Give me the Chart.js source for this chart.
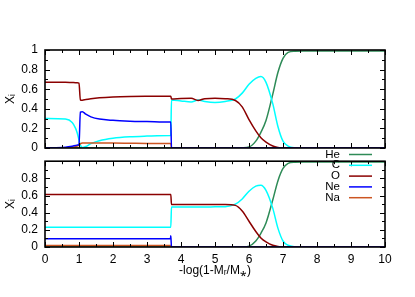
<!DOCTYPE html>
<html>
<head>
<meta charset="utf-8">
<script src="https://cdn.jsdelivr.net/npm/chart.js@4"></script>
<style>
  body { margin: 0; background: #fff; }
  #wrap { position: relative; width: 415px; height: 297px; }
  canvas { position: absolute; left: 0; }
</style>
</head>
<body>
<div id="wrap">
  <canvas id="bottomChart" width="415" height="150" style="top:147px"></canvas>
  <canvas id="topChart" width="415" height="165" style="top:0px"></canvas>
</div>
<script>
/* 数据：横坐标 -log(1-Mr/M*) */
var xs = [0, 0.6, 0.8, 0.9, 0.95, 1.0, 1.04, 1.1, 1.2, 1.35, 1.6, 2.0, 2.5, 3.0, 3.69, 3.7, 3.72, 4.0, 4.3, 4.5,
          4.7, 5.0, 5.3, 5.6, 5.8, 6.0, 6.2, 6.35, 6.5, 6.7, 6.85, 7.0, 7.15, 7.35, 7.6, 8.0, 9.0, 10];
var species = ['He', 'C', 'O', 'Ne', 'Na'];
var colors = ['#2e8b57', '#00ffff', '#8b0000', '#0000ff', '#cc5522'];

/* 两个面板共用的 He */
var he = [0, 0, 0, 0, 0, 0, 0, 0, 0, 0, 0, 0, 0, 0, 0, 0, 0, 0, 0, 0,
          0, 0, 0, 0, 0.002, 0.01, 0.07, 0.16, 0.28, 0.55, 0.77, 0.915, 0.975, 0.988, 0.99, 0.99, 0.99, 0.99];

/* 上面板 */
var topC  = [0.30, 0.295, 0.26, 0.20, 0.15, 0.08, 0.03, 0.005, 0.015, 0.045, 0.075, 0.10, 0.115, 0.122, 0.128, 0.128, 0.49, 0.48, 0.47, 0.49,
             0.475, 0.465, 0.475, 0.50, 0.56, 0.65, 0.71, 0.73, 0.67, 0.45, 0.22, 0.07, 0.02, 0.003, 0, 0, 0, 0];
var topO  = [0.67, 0.67, 0.668, 0.667, 0.665, 0.662, 0.49, 0.487, 0.495, 0.503, 0.512, 0.52, 0.525, 0.527, 0.528, 0.528, 0.50, 0.505, 0.507, 0.485,
             0.503, 0.507, 0.503, 0.485, 0.42, 0.29, 0.175, 0.105, 0.06, 0.02, 0.006, 0, 0, 0, 0, 0, 0, 0];
var topNe = [0, 0.008, 0.018, 0.025, 0.03, 0.035, 0.365, 0.37, 0.345, 0.318, 0.295, 0.282, 0.274, 0.27, 0.265, 0.265, 0, 0, 0, 0,
             0, 0, 0, 0, 0, 0, 0, 0, 0, 0, 0, 0, 0, 0, 0, 0, 0, 0];
var topNa = [0, 0.001, 0.005, 0.012, 0.02, 0.03, 0.042, 0.05, 0.052, 0.052, 0.051, 0.05, 0.048, 0.046, 0.045, 0.045, 0, 0, 0, 0,
             0, 0, 0, 0, 0, 0, 0, 0, 0, 0, 0, 0, 0, 0, 0, 0, 0, 0];

/* 下面板 */
var botC  = [0.23, 0.23, 0.23, 0.23, 0.23, 0.23, 0.23, 0.23, 0.23, 0.23, 0.23, 0.23, 0.23, 0.23, 0.23, 0.23, 0.465, 0.466, 0.466, 0.467,
             0.467, 0.468, 0.47, 0.50, 0.56, 0.65, 0.71, 0.72, 0.66, 0.45, 0.22, 0.07, 0.02, 0.003, 0, 0, 0, 0];
var botO  = [0.613, 0.613, 0.613, 0.613, 0.613, 0.613, 0.613, 0.613, 0.613, 0.613, 0.613, 0.613, 0.613, 0.613, 0.613, 0.613, 0.495, 0.495, 0.495, 0.495,
             0.495, 0.495, 0.495, 0.485, 0.42, 0.30, 0.18, 0.105, 0.06, 0.02, 0.006, 0, 0, 0, 0, 0, 0, 0];
var botNe = [0.095, 0.095, 0.095, 0.095, 0.095, 0.095, 0.095, 0.095, 0.095, 0.095, 0.095, 0.095, 0.095, 0.095, 0.095, 0.13, 0, 0, 0, 0,
             0, 0, 0, 0, 0, 0, 0, 0, 0, 0, 0, 0, 0, 0, 0, 0, 0, 0];
var botNa = [0.017, 0.017, 0.017, 0.017, 0.017, 0.017, 0.017, 0.017, 0.017, 0.017, 0.017, 0.017, 0.017, 0.017, 0.017, 0.017, 0, 0, 0, 0,
             0, 0, 0, 0, 0, 0, 0, 0, 0, 0, 0, 0, 0, 0, 0, 0, 0, 0];

var FONT = 'Liberation Sans, Arial, sans-serif';
Chart.defaults.font.family = FONT;
Chart.defaults.font.size = 12;
Chart.defaults.color = '#000';

function makeSets(list) {
    // 画的顺序：He 在最下，Ne 在最上
    var drawOrder = [4, 3, 2, 0, 1];
    return list.map(function(vals, k) {
        return {
            label: species[k],
            data: xs.map(function(x, i) { return {x: x, y: vals[i]}; }),
            borderColor: colors[k],
            borderWidth: 1.5,
            pointRadius: 0,
            fill: false,
            cubicInterpolationMode: 'monotone',
            order: drawOrder[k]
        };
    });
}

/* gnuplot 风格的边框和向内的刻度 */
var frameTicks = {
    id: 'frameTicks',
    afterDatasetsDraw: function(chart) {
        var ctx = chart.ctx, a = chart.chartArea;
        var sx = chart.scales.x, sy = chart.scales.y;
        ctx.save();
        ctx.strokeStyle = '#000';
        ctx.lineWidth = 1;
        ctx.beginPath();
        for (var i = 0; i <= 20; i++) {
            var v = i / 2, px = Math.round(sx.getPixelForValue(v)) + 0.5;
            var len = (i % 2 === 0) ? 5 : 3;
            ctx.moveTo(px, a.bottom); ctx.lineTo(px, a.bottom - len);
            ctx.moveTo(px, a.top); ctx.lineTo(px, a.top + len);
        }
        for (var j = 0; j <= 10; j++) {
            var py = Math.round(sy.getPixelForValue(j / 10)) + 0.5;
            var l2 = (j % 2 === 0) ? 5 : 3;
            ctx.moveTo(a.left, py); ctx.lineTo(a.left + l2, py);
            ctx.moveTo(a.right, py); ctx.lineTo(a.right - l2, py);
        }
        ctx.stroke();
        ctx.lineWidth = 1.6;
        ctx.strokeRect(a.left, a.top, a.right - a.left, a.bottom - a.top);
        ctx.restore();
    }
};

/* 下面板里的图例 */
var insideLegend = {
    id: 'insideLegend',
    afterDraw: function(chart) {
        var ctx = chart.ctx;
        ctx.save();
        ctx.font = '11.5px ' + FONT;
        ctx.textAlign = 'right';
        ctx.textBaseline = 'middle';
        chart.data.datasets.forEach(function(ds, i) {
            var y = 7.5 + i * 10.8;
            ctx.fillStyle = '#000';
            ctx.fillText(ds.label, 340, y);
            ctx.strokeStyle = ds.borderColor;
            ctx.lineWidth = 1.5;
            ctx.beginPath();
            ctx.moveTo(349, y); ctx.lineTo(372, y);
            ctx.stroke();
        });
        ctx.restore();
    }
};

function yAxis(hideTop) {
    return {
        min: 0, max: 1,
        grid: { display: false, drawTicks: false },
        border: { display: false },
        ticks: {
            stepSize: 0.2, padding: 7, autoSkip: false,
            callback: function(v) { return (hideTop && v > 0.99) ? '' : Math.round(v * 10) / 10; }
        },
        title: { display: true, text: 'Xᵢ', font: { size: 12 }, padding: { top: 3, bottom: 3 } },
        afterFit: function(s) { s.width = 45; }
    };
}

var topChart = new Chart(document.getElementById('topChart'), {
    type: 'line',
    data: { datasets: makeSets([he, topC, topO, topNe, topNa]) },
    options: {
        responsive: false, animation: false, devicePixelRatio: 1,
        layout: { padding: { left: 0, right: 30, top: 50, bottom: 17 } },
        plugins: { legend: { display: false }, tooltip: { enabled: false } },
        scales: {
            x: { type: 'linear', min: 0, max: 10, display: false },
            y: yAxis(false)
        }
    },
    plugins: [frameTicks]
});

var bottomChart = new Chart(document.getElementById('bottomChart'), {
    type: 'line',
    data: { datasets: makeSets([he, botC, botO, botNe, botNa]) },
    options: {
        responsive: false, animation: false, devicePixelRatio: 1,
        layout: { padding: { left: 0, right: 30, top: 0, bottom: 0 } },
        plugins: { legend: { display: false }, tooltip: { enabled: false } },
        scales: {
            x: {
                type: 'linear', min: 0, max: 10,
                grid: { display: false, drawTicks: false },
                border: { display: false },
                ticks: { stepSize: 1, padding: 5, maxRotation: 0, autoSkip: false },
                title: { display: true, text: '-log(1-Mᵣ/M⁎)', font: { size: 12 }, padding: { top: 19, bottom: 19 } },
                afterFit: function(s) { s.height = 50; }
            },
            y: yAxis(true)
        }
    },
    plugins: [frameTicks, insideLegend]
});
</script>
</body>
</html>
